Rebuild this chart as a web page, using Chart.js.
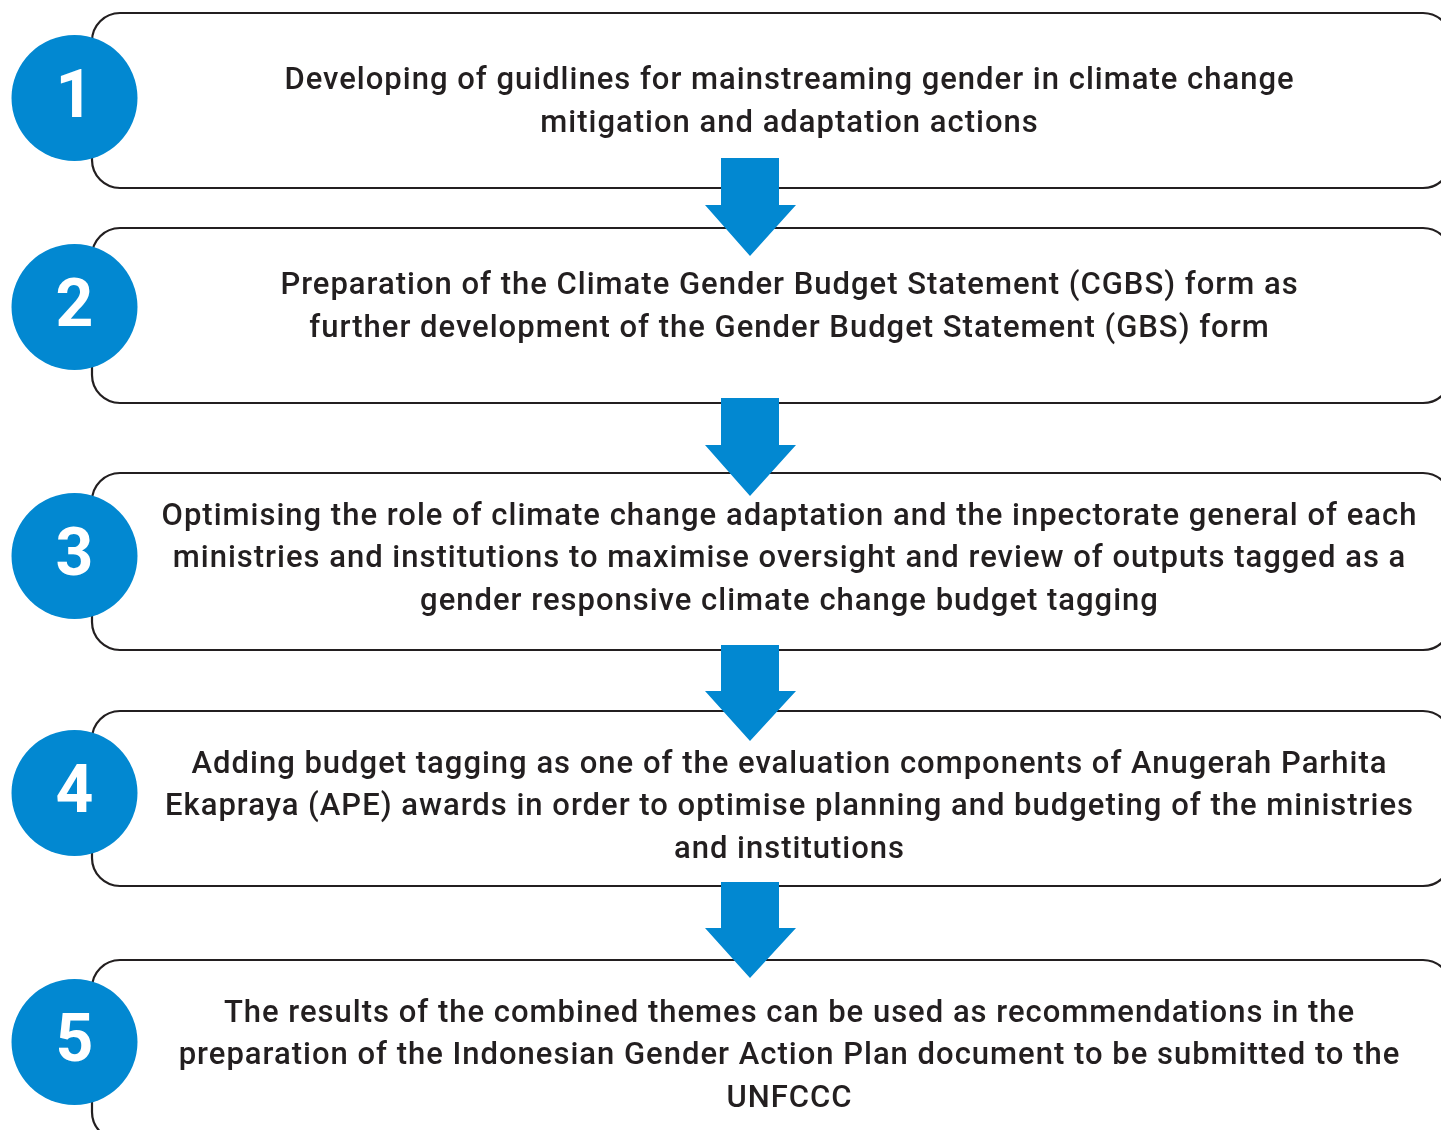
<!DOCTYPE html>
<html>
<head>
<meta charset="utf-8">
<title>Gender responsive climate budget tagging steps</title>
<script src="https://cdn.jsdelivr.net/npm/chart.js@4/dist/chart.umd.min.js"></script>
<style>
  html, body { margin: 0; padding: 0; background: #fff; }
  #wrap { width: 1441px; height: 1130px; }
</style>
</head>
<body>
<div id="wrap"><canvas id="chartSteps" width="1441" height="1130"></canvas></div>
<script>
// step numbers and their texts (line breaks as in the original)
const stepNumbers = ['1', '2', '3', '4', '5'];
const stepLines = [
  ['Developing of guidlines for mainstreaming gender in climate change', 'mitigation and adaptation actions'],
  ['Preparation of the Climate Gender Budget Statement (CGBS) form as', 'further development of the Gender Budget Statement (GBS) form'],
  ['Optimising the role of climate change adaptation and the inpectorate general of each', 'ministries and institutions to maximise oversight and review of outputs tagged as a', 'gender responsive climate change budget tagging'],
  ['Adding budget tagging as one of the evaluation components of Anugerah Parhita', 'Ekapraya (APE) awards in order to optimise planning and budgeting of the ministries', 'and institutions'],
  ['The results of the combined themes can be used as recommendations in the', 'preparation of the Indonesian Gender Action Plan document to be submitted to the', 'UNFCCC']
];
// vertical levels (data units, 0 = top)
const circleLevel = [98, 307, 556, 793, 1042];
const textLevel = [99.5, 304.5, 556, 804, 1053];
const boxTop = [13, 228, 473, 711, 960];
const boxBottom = [188, 403, 650, 886, 1140];
const arrowTop = [158, 398, 645, 882];
const arrowTip = [256, 496, 741, 978];

const BLUE = '#0288d1';
const INK = '#231f20';

const flowPlugin = {
  id: 'flow',
  beforeDatasetsDraw(chart) {
    const ctx = chart.ctx, x = chart.scales.x, y = chart.scales.y;
    const left = x.getPixelForValue(92), right = x.getPixelForValue(1451), r = 28;
    ctx.save();
    ctx.strokeStyle = INK;
    ctx.lineWidth = 2.2;
    boxTop.forEach(function (t, i) {
      const top = y.getPixelForValue(t), bot = y.getPixelForValue(boxBottom[i]);
      ctx.beginPath();
      ctx.roundRect(left, top, right - left, bot - top, r);
      ctx.fillStyle = '#fff';
      ctx.fill();
      ctx.stroke();
    });
    ctx.restore();
  },
  afterDatasetsDraw(chart) {
    const ctx = chart.ctx, x = chart.scales.x, y = chart.scales.y;
    ctx.save();
    ctx.textAlign = 'center';
    ctx.textBaseline = 'middle';
    // numbers in circles
    ctx.fillStyle = '#fff';
    ctx.font = 'bold 66px Roboto';
    stepNumbers.forEach(function (n, i) {
      ctx.fillText(n, x.getPixelForValue(74.5), y.getPixelForValue(circleLevel[i]) + 2);
    });
    // step texts
    ctx.fillStyle = INK;
    ctx.font = '500 31px Roboto';
    ctx.letterSpacing = '1px';
    ctx.textBaseline = 'alphabetic';
    const lh = 42.5;
    stepLines.forEach(function (lines, i) {
      const c = y.getPixelForValue(textLevel[i]);
      const start = c - (lines.length - 1) * lh / 2 + 11;
      lines.forEach(function (ln, j) {
        ctx.fillText(ln, x.getPixelForValue(789) + 0.5, start + j * lh);
      });
    });
    ctx.letterSpacing = '0px';
    // arrows
    ctx.fillStyle = BLUE;
    arrowTop.forEach(function (t, i) {
      const top = y.getPixelForValue(t), tip = y.getPixelForValue(arrowTip[i]);
      const neck = top + (tip - top) * 0.48;
      ctx.beginPath();
      ctx.moveTo(x.getPixelForValue(721), top);
      ctx.lineTo(x.getPixelForValue(779), top);
      ctx.lineTo(x.getPixelForValue(779), neck);
      ctx.lineTo(x.getPixelForValue(796), neck);
      ctx.lineTo(x.getPixelForValue(750), tip);
      ctx.lineTo(x.getPixelForValue(705), neck);
      ctx.lineTo(x.getPixelForValue(721), neck);
      ctx.closePath();
      ctx.fill();
    });
    ctx.restore();
  }
};

new Chart(document.getElementById('chartSteps').getContext('2d'), {
  type: 'scatter',
  data: {
    datasets: [{
      label: 'Steps',
      data: circleLevel.map(function (v) { return { x: 74.5, y: v }; }),
      pointRadius: 63,
      pointHoverRadius: 63,
      backgroundColor: BLUE,
      borderWidth: 0,
      clip: false
    }]
  },
  options: {
    responsive: false,
    animation: false,
    events: [],
    layout: { padding: 0, autoPadding: false },
    plugins: { legend: { display: false }, tooltip: { enabled: false } },
    scales: {
      x: { type: 'linear', min: 0, max: 1441, display: false },
      y: { type: 'linear', min: 0, max: 1130, reverse: true, display: false }
    }
  },
  plugins: [flowPlugin]
});
</script>
</body>
</html>
